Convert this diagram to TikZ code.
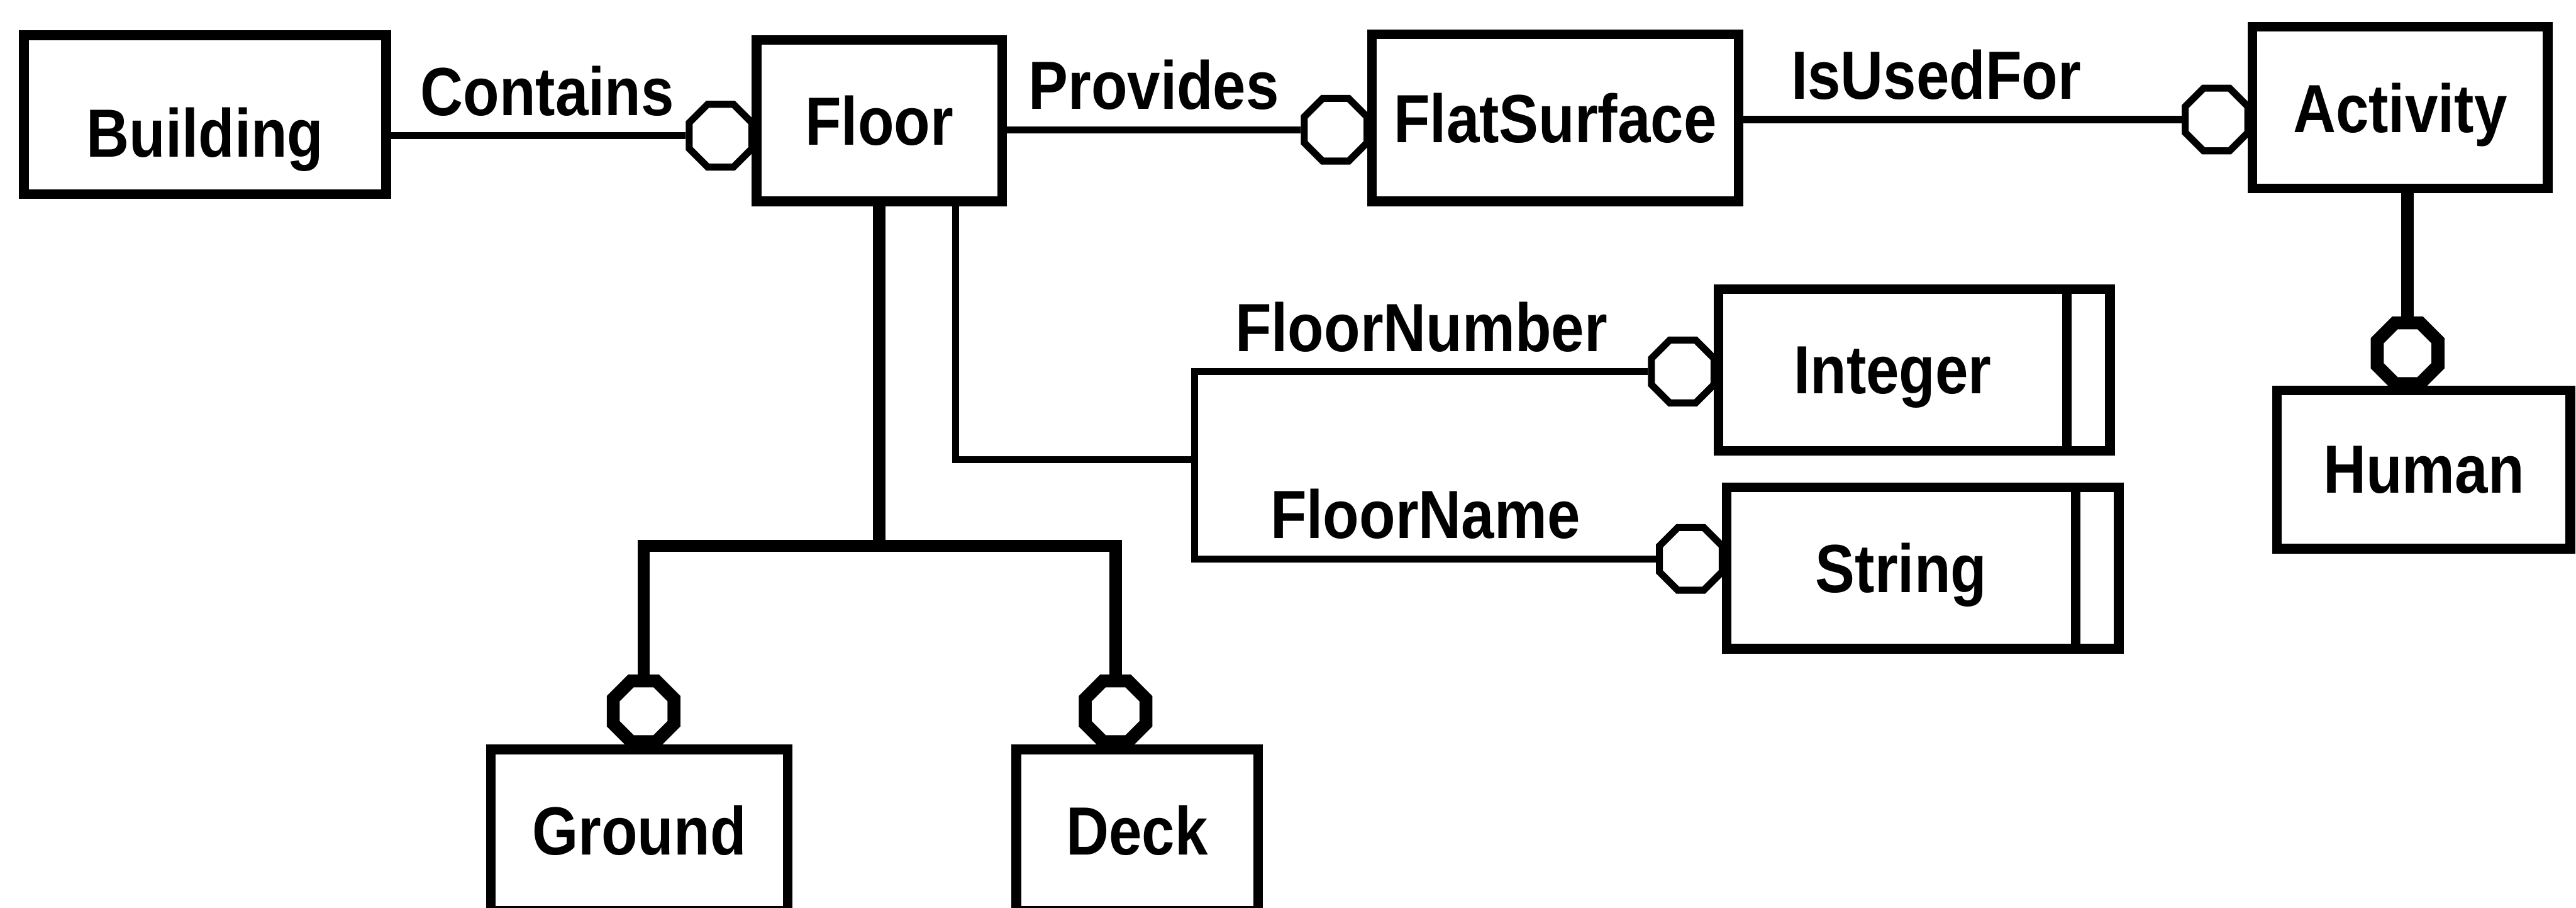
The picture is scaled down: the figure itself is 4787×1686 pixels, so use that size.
\documentclass[tikz,border=0pt]{standalone}
\usepackage{fontspec}
\setmainfont{Liberation Sans}[FakeStretch=0.87]
\usetikzlibrary{shapes.geometric,positioning}

\begin{document}
\begin{tikzpicture}[x=0.01cm,y=-0.01cm,auto,font=\fontsize{36}{40}\selectfont\bfseries,
	entity/.style={draw,line width=0.18cm,minimum height=3cm,text depth=0pt},
	tag/.style={draw,line width=0.18cm,minimum height=3cm,minimum width=0.8cm},
	ring/.style={draw,fill=white,regular polygon,regular polygon sides=8,minimum size=1.26cm,inner sep=0pt,line width=0.13cm},
	bigring/.style={ring,minimum size=1.22cm,line width=0.24cm},
	link/.style={line width=0.13cm},
	isa/.style={line width=0.23cm},
	role/.style={inner ysep=0.3cm,inner xsep=0pt}]

	\useasboundingbox (0,0) rectangle (4787,1686);

	\node[entity,minimum width=6.73cm,minimum height=2.95cm,text height=1.57cm] (B) at (381,213) {Building};
	\node[entity,minimum width=4.56cm] (F) at (1634,224) {Floor};
	\node[entity,minimum width=6.81cm,minimum height=3.1cm] (S) at (2890,219) {FlatSurface};
	\node[entity,minimum width=5.48cm] (A) at (4460,200) {Activity};
	\node[entity,minimum width=5.45cm,minimum height=2.94cm] (H) at (4504,872) {Human};
	\node[entity,minimum width=6.47cm] (I) at (3517,687) {Integer};
	\node[tag,right=-0.18cm of I] (Ix) {};
	\node[entity,minimum width=6.48cm] (T) at (3533,1055) {String};
	\node[tag,right=-0.18cm of T] (Tx) {};
	\node[entity,minimum width=5.51cm] (G) at (1188,1542) {Ground};
	\node[entity,minimum width=4.49cm] (D) at (2113,1542) {Deck};

	\node[ring] (oF) at (1339,252) {};
	\node[ring] (oS) at (2482,241) {};
	\node[ring] (oA) at (4119,222) {};
	\node[ring] (oI) at (3127,690) {};
	\node[ring] (oT) at (3142,1038) {};
	\node[bigring] (oG) at (1196,1321) {};
	\node[bigring] (oD) at (2073,1321) {};
	\node[bigring] (oH) at (4474,656) {};

	\coordinate (split) at (1634,1014);
	\coordinate (attr) at (2220,854);

	\path[link] (B.east |- oF) edge node[role,pos=.53] {Contains} (oF)
	(F.east |- oS) edge node[role] {Provides} (oS)
	(S.east |- oA) edge node[role,pos=.44] {IsUsedFor} (oA);

	\draw[link] ([xshift=1.42cm]F.south) |- (attr);
	\draw[link] (attr) |- node[role,pos=.75] {FloorNumber} (oI);
	\draw[link] (attr) |- node[role,pos=.75] {FloorName} (oT);

	\draw[isa] (F.south) -- (split);
	\draw[isa] (oG) |- (split) -| (oD);
	\draw[isa] (A.south -| oH) -- (oH);
\end{tikzpicture}
\end{document}
